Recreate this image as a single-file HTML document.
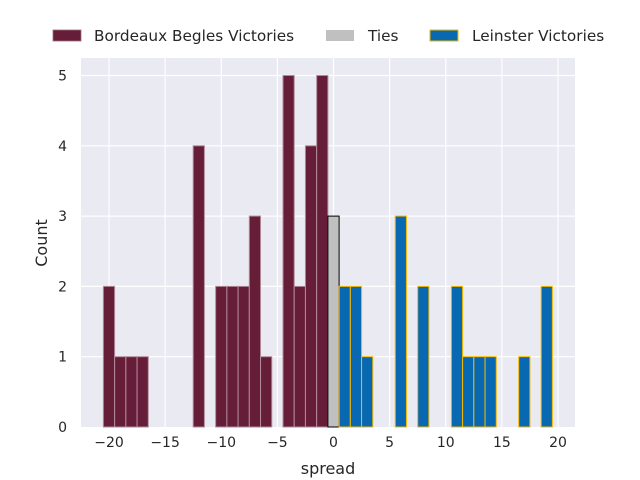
<!DOCTYPE html>
<html><head><style>body{margin:0;background:#fff}svg{display:block}text{font-family:"DejaVu Sans","Liberation Sans",sans-serif;fill:#262626}</style></head><body>
<svg width="640" height="480" xmlns="http://www.w3.org/2000/svg">
<rect x="81" y="58" width="494" height="369" fill="#eaeaf2"/>
<g stroke="#fff" stroke-width="1.2">
<line x1="109" y1="58" x2="109" y2="427"/><line x1="165.1" y1="58" x2="165.1" y2="427"/><line x1="221.3" y1="58" x2="221.3" y2="427"/><line x1="277.4" y1="58" x2="277.4" y2="427"/><line x1="333.5" y1="58" x2="333.5" y2="427"/><line x1="389.6" y1="58" x2="389.6" y2="427"/><line x1="445.8" y1="58" x2="445.8" y2="427"/><line x1="501.9" y1="58" x2="501.9" y2="427"/><line x1="558" y1="58" x2="558" y2="427"/>
<line x1="81" y1="356.7" x2="575" y2="356.7"/><line x1="81" y1="286.4" x2="575" y2="286.4"/><line x1="81" y1="216.1" x2="575" y2="216.1"/><line x1="81" y1="145.8" x2="575" y2="145.8"/><line x1="81" y1="75.5" x2="575" y2="75.5"/>
</g>
<g id="bars"></g>
<g font-size="14" text-anchor="middle">
<text x="109" y="447">−20</text><text x="165.1" y="447">−15</text><text x="221.3" y="447">−10</text><text x="277.4" y="447">−5</text><text x="333.5" y="447">0</text><text x="389.6" y="447">5</text><text x="445.8" y="447">10</text><text x="501.9" y="447">15</text><text x="558" y="447">20</text>
<text x="328" y="474" font-size="16">spread</text>
</g>
<g font-size="14" text-anchor="end">
<text x="67" y="432">0</text><text x="67" y="361.7">1</text><text x="67" y="291.4">2</text><text x="67" y="221.1">3</text><text x="67" y="150.8">4</text><text x="67" y="80.5">5</text>
</g>
<text x="47" y="243" font-size="16" text-anchor="middle" transform="rotate(-90 47 243)">Count</text>
<rect x="53" y="30" width="28" height="11" fill="#661d38" stroke="#9a7080" stroke-width="0.8"/>
<text x="94" y="41" font-size="15.3">Bordeaux Begles Victories</text>
<rect x="326" y="30" width="28" height="11" fill="#c0c0c0"/>
<text x="368" y="41" font-size="15.3">Ties</text>
<rect x="430" y="30" width="28" height="11" fill="#0868b1" stroke="#f5b800" stroke-width="1"/>
<text x="472" y="41" font-size="15.3">Leinster Victories</text>
</svg>
<script>
var g=document.getElementById('bars'),ns='http://www.w3.org/2000/svg';
function bar(v,c,f,s,sw){var x=333.5+v*11.225-5.6,h=c*70.3;var r=document.createElementNS(ns,'rect');r.setAttribute('x',x);r.setAttribute('y',427-h);r.setAttribute('width',11.2);r.setAttribute('height',h);r.setAttribute('fill',f);r.setAttribute('stroke',s);r.setAttribute('stroke-width',sw);g.appendChild(r);}
[[-20,2],[-19,1],[-18,1],[-17,1],[-12,4],[-10,2],[-9,2],[-8,2],[-7,3],[-6,1],[-4,5],[-3,2],[-2,4],[-1,5]].forEach(function(d){bar(d[0],d[1],'#661d38','#b08a98',1)});
bar(0,3,'#c0c0c0','#000',1);
[[1,2],[2,2],[3,1],[6,3],[8,2],[11,2],[12,1],[13,1],[14,1],[17,1],[19,2]].forEach(function(d){bar(d[0],d[1],'#0868b1','#f5b800',1)});
</script>
</body></html>
